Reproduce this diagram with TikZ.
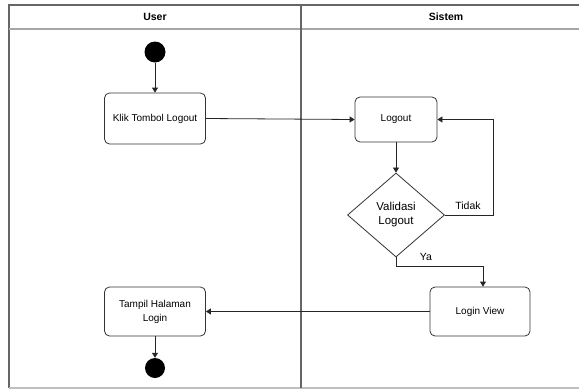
\documentclass[tikz,border=0pt]{standalone}
\usepackage{fontspec}
\setmainfont{Liberation Sans}
\usetikzlibrary{arrows.meta,shapes.geometric}
\begin{document}
\begin{tikzpicture}[x=1pt,y=-1pt,
  lane/.style={draw=black!60,line width=1.1pt},
  act/.style={draw=black!80,line width=0.8pt,rounded corners=5pt,fill=white,align=center,font=\fontsize{10}{12}\selectfont,inner sep=0pt},
  dec/.style={draw=black!80,line width=0.8pt,diamond,aspect=1.15,minimum width=97pt,minimum height=84pt,inner sep=0pt,align=center,font=\fontsize{11.5}{14}\selectfont},
  dot/.style={circle,fill=black,minimum size=21pt,inner sep=0pt},
  flow/.style={draw=black!85,line width=0.8pt,-{Triangle[length=5pt,width=6pt]}},
  lbl/.style={font=\fontsize{10.5}{12}\selectfont,inner sep=0pt},
  head/.style={font=\bfseries\fontsize{10.5}{12}\selectfont,inner sep=0pt}]
\useasboundingbox (0,0) rectangle (579,389);
\draw[lane] (579,5) -- (9,5) -- (9,388);
\draw[lane,draw=black!25] (9,388) -- (579,388);
\draw[lane,draw=black!35] (9,29) -- (579,29);
\draw[lane] (301,5) -- (301,388);
\node[head] (hu) at (155,17) {User};
\node[head] (hs) at (446,17) {Sistem};
\node[dot] (start) at (155,52) {};
\node[act,minimum width=101pt,minimum height=51pt] (klik) at (155,118.5) {Klik Tombol Logout};
\node[act,minimum width=82pt,minimum height=45pt] (logout) at (396,119.5) {Logout};
\node[dec] (val) at (396,215) {Validasi\\Logout};
\node[act,minimum width=100pt,minimum height=49pt] (lv) at (480,311.5) {Login View};
\node[act,minimum width=101pt,minimum height=49pt] (tampil) at (155,311.5) {Tampil Halaman\\[2pt]Login};
\node[dot,minimum size=20pt] (end) at (155,368) {};
\coordinate (t1) at (493,215);
\coordinate (t2) at (493,119.5);
\coordinate (y1) at (396,266);
\coordinate (y2) at (483,266);
\draw[flow] (start) -- (klik);
\draw[flow] (klik.east) -- (logout.west);
\draw[flow] (logout) -- (val);
\draw[flow] (val.east) -- (t1) -- (t2) -- (logout.east);
\draw[flow] (val.south) -- (y1) -- (y2) -- (y2 |- lv.north);
\draw[flow] (lv.west) -- (tampil.east);
\draw[flow] (tampil) -- (end);
\node[lbl] (tidak) at (468,206) {Tidak};
\node[lbl] (ya) at (426,257) {Ya};
\end{tikzpicture}
\end{document}
